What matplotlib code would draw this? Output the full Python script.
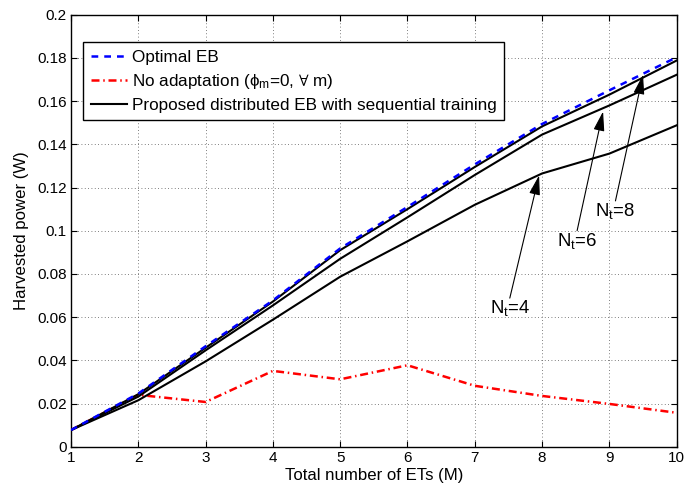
import matplotlib
matplotlib.use("Agg")
import matplotlib.pyplot as plt
import numpy as np

plt.rcParams['font.family'] = ['Liberation Sans', 'DejaVu Sans']
plt.rcParams['mathtext.fontset'] = 'custom'
plt.rcParams['mathtext.rm'] = 'Liberation Sans'
plt.rcParams['mathtext.it'] = 'Liberation Sans:italic'
plt.rcParams['mathtext.bf'] = 'Liberation Sans:bold'
plt.rcParams['mathtext.fallback'] = 'stixsans'

# ---- data ----
M = [1, 2, 3, 4, 5, 6, 7, 8, 9, 10]
optimal_eb = [0.0077, 0.0246, 0.0465, 0.0677, 0.0918, 0.1110, 0.1307, 0.1494, 0.1650, 0.1803]
no_adapt = [0.0077, 0.0240, 0.0207, 0.0351, 0.0312, 0.0377, 0.0282, 0.0235, 0.0198, 0.0157]
prop_nt8 = [0.0077, 0.0243, 0.0458, 0.0672, 0.0910, 0.1100, 0.1295, 0.1483, 0.1630, 0.1788]
prop_nt6 = [0.0077, 0.0232, 0.0446, 0.0654, 0.0870, 0.1062, 0.1258, 0.1445, 0.1580, 0.1722]
prop_nt4 = [0.0077, 0.0215, 0.0395, 0.0588, 0.0787, 0.0951, 0.1120, 0.1265, 0.1357, 0.1488]

xticks = [1, 2, 3, 4, 5, 6, 7, 8, 9, 10]
yticks = [0, 0.02, 0.04, 0.06, 0.08, 0.1, 0.12, 0.14, 0.16, 0.18, 0.2]
ytick_labels = ['0', '0.02', '0.04', '0.06', '0.08', '0.1', '0.12', '0.14', '0.16', '0.18', '0.2']

# annotations: label, tail (text top), arrow tip
ann_labels = [r'$\mathregular{N_t}$=4', r'$\mathregular{N_t}$=6', r'$\mathregular{N_t}$=8']
ann_tail = [(7.52, 0.0688), (8.52, 0.1000), (9.09, 0.1138)]
ann_tip = [(7.955, 0.1256), (8.906, 0.1552), (9.50, 0.1722)]

fig = plt.figure(figsize=(6.87, 4.87), dpi=100)
ax = fig.add_axes([71/687, 1-446.7/487, (676.7-71)/687, (446.7-14.7)/487])

ax.plot(M, optimal_eb, color='#0000ff', linestyle=(0, (2.7, 2.4)), lw=1.8, label='Optimal EB', zorder=4)
ax.plot(M, no_adapt, color='#ff0000', linestyle=(0, (3.2, 1.5, 0.6, 1.5)), lw=1.8,
        label=r'No adaptation ($\mathregular{\phi_m}$=0, $\mathregular{\forall}$ m)', zorder=3)
ax.plot(M, prop_nt8, color='black', lw=1.5, label='Proposed distributed EB with sequential training', zorder=3)
ax.plot(M, prop_nt6, color='black', lw=1.5, zorder=3)
ax.plot(M, prop_nt4, color='black', lw=1.5, zorder=3)

ax.set_xlim(1, 10)
ax.set_ylim(0, 0.2)
ax.set_xticks(xticks)
ax.set_yticks(yticks)
ax.set_yticklabels(ytick_labels)
ax.tick_params(direction='in', top=True, right=True, labelsize=11, length=4, width=0.8, pad=3)
ax.grid(True, linestyle=(0, (1, 3)), color='#555555', lw=0.6)
for s in ax.spines.values():
    s.set_linewidth(1.0)

ax.set_xlabel('Total number of ETs (M)', fontsize=12.1, labelpad=2)
ax.set_ylabel('Harvested power (W)', fontsize=12.1, labelpad=6)

for lab, tail, tip in zip(ann_labels, ann_tail, ann_tip):
    ax.annotate('', xy=tip, xytext=tail,
                arrowprops=dict(arrowstyle='-|>,head_length=1.0,head_width=0.28', lw=0.8,
                                color='black', shrinkA=0, shrinkB=0, mutation_scale=12))
    ax.text(tail[0], tail[1], lab, ha='center', va='top', fontsize=13.4)

leg = ax.legend(loc='upper left', bbox_to_anchor=(12.3/605.7, 1-27.6/432), fontsize=12.3,
                frameon=True, fancybox=False, edgecolor='black', framealpha=1,
                handlelength=2.1, handletextpad=0.3, borderpad=0.45, labelspacing=0.4,
                borderaxespad=0)
leg.get_frame().set_linewidth(1.0)

fig.savefig('out.png', dpi=100)
